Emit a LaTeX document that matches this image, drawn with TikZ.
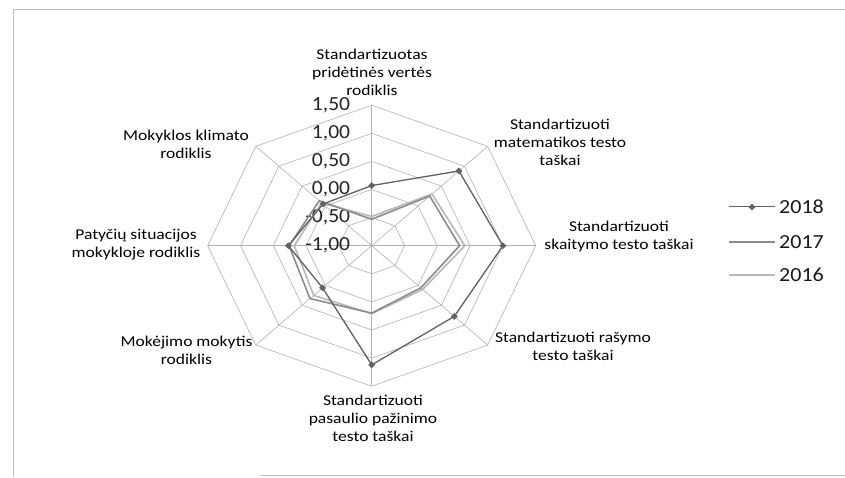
\documentclass[tikz,border=0pt]{standalone}
\usepackage{fontspec}
\setmainfont{Carlito}
\usetikzlibrary{shapes.geometric,calc}
\begin{document}
\begin{tikzpicture}[x=1pt,y=1pt,
  gridline/.style={draw=black!30, line width=0.6pt},
  lab/.style={font=\fontsize{15}{18}\selectfont, align=center, text=black, inner sep=0pt, xscale=1.17},
  tick/.style={font=\fontsize{20}{20}\selectfont, anchor=east, inner sep=0pt, text=black!85, xscale=1.08},
  legtext/.style={font=\fontsize{20}{20}\selectfont, anchor=west, inner sep=0pt, text=black!90, xscale=1.1},
  s18/.style={draw=black!62, line width=1.3pt, line join=round},
  s17/.style={draw=black!45, line width=1.6pt, line join=round},
  s16/.style={draw=black!28, line width=1.6pt, line join=round},
  mk/.style={diamond, fill=black!62, inner sep=0pt, minimum size=7pt}
]
\useasboundingbox (0,0) rectangle (845,477);
\fill[white] (0,0) rectangle (845,477);
\draw[black!25, line width=0.8pt] (13,0) -- (13,468) -- (845,468);
\draw[black!25, line width=0.8pt] (260,2) -- (845,2);

\begin{scope}[shift={(371.7,231.3)}, x=164pt, y=140.5pt]
  % rings
  \foreach \f in {0.2,0.4,0.6,0.8,1.0} {
    \draw[gridline] (0,\f) \foreach \k in {1,...,7} { -- ({cos(90-45*\k)*\f},{sin(90-45*\k)*\f}) } -- cycle;
  }
  % spokes
  \coordinate (c) at (0,0);
  \foreach \k in {0,...,7} {
    \coordinate (ax\k) at ({cos(90-45*\k)},{sin(90-45*\k)});
    \draw[gridline] (c) -- (ax\k);
  }
  % tick labels
  \node[tick] (tm100) at (-0.13,0.0) {-1,00};
  \node[tick] (tm050) at (-0.13,0.2) {-0,50};
  \node[tick] (t000) at (-0.13,0.4) {0,00};
  \node[tick] (t050) at (-0.13,0.6) {0,50};
  \node[tick] (t100) at (-0.13,0.8) {1,00};
  \node[tick] (t150) at (-0.13,1.0) {1,50};
  % data
  \foreach \v [count=\k from 0] in {-0.48,0.30,0.42,0.10,0.21,0.25,0.18,0.08}
    \coordinate (p16-\k) at ({cos(90-45*\k)*(\v+1)/2.5},{sin(90-45*\k)*(\v+1)/2.5});
  \foreach \v [count=\k from 0] in {-0.53,0.25,0.34,0.06,0.20,0.33,0.26,0.13}
    \coordinate (p17-\k) at ({cos(90-45*\k)*(\v+1)/2.5},{sin(90-45*\k)*(\v+1)/2.5});
  \foreach \v [count=\k from 0] in {0.07,0.88,1.00,0.78,1.12,0.06,0.27,0.05}
    \coordinate (p18-\k) at ({cos(90-45*\k)*(\v+1)/2.5},{sin(90-45*\k)*(\v+1)/2.5});
  \draw[s16] (p16-0) -- (p16-1) -- (p16-2) -- (p16-3) -- (p16-4) -- (p16-5) -- (p16-6) -- (p16-7) -- cycle;
  \draw[s17] (p17-0) -- (p17-1) -- (p17-2) -- (p17-3) -- (p17-4) -- (p17-5) -- (p17-6) -- (p17-7) -- cycle;
  \draw[s18] (p18-0) -- (p18-1) -- (p18-2) -- (p18-3) -- (p18-4) -- (p18-5) -- (p18-6) -- (p18-7) -- cycle;
  \foreach \k in {0,...,7} \node[mk] (m18-\k) at (p18-\k) {};
\end{scope}

% category labels
\node[lab] (c0) at (372,404.5) {Standartizuotas\\pridėtinės vertės\\rodiklis};
\node[lab] (c1) at (560,335) {Standartizuoti\\matematikos testo\\taškai};
\node[lab] (c2) at (619,240) {Standartizuoti\\skaitymo testo taškai};
\node[lab] (c3) at (573,131) {Standartizuoti rašymo\\testo taškai};
\node[lab] (c4) at (373,59) {Standartizuoti\\pasaulio pažinimo\\testo taškai};
\node[lab] (c5) at (186.5,127) {Mokėjimo mokytis\\rodiklis};
\node[lab] (c6) at (136,232) {Patyčių situacijos\\mokykloje rodiklis};
\node[lab] (c7) at (186,333) {Mokyklos klimato\\rodiklis};

% legend
\coordinate (l18a) at (729,270); \coordinate (l18b) at (775,270);
\coordinate (l17a) at (729,235); \coordinate (l17b) at (775,235);
\coordinate (l16a) at (729,202); \coordinate (l16b) at (775,202);
\draw[s18, line width=1pt] (l18a) -- (l18b);
\node[mk] (lm18) at ($(l18a)!0.5!(l18b)$) {};
\draw[s17, line width=1.2pt] (l17a) -- (l17b);
\draw[s16, line width=1.2pt] (l16a) -- (l16b);
\node[legtext] (g18) at (779,270) {2018};
\node[legtext] (g17) at (779,235) {2017};
\node[legtext] (g16) at (779,202) {2016};
\end{tikzpicture}
\end{document}
